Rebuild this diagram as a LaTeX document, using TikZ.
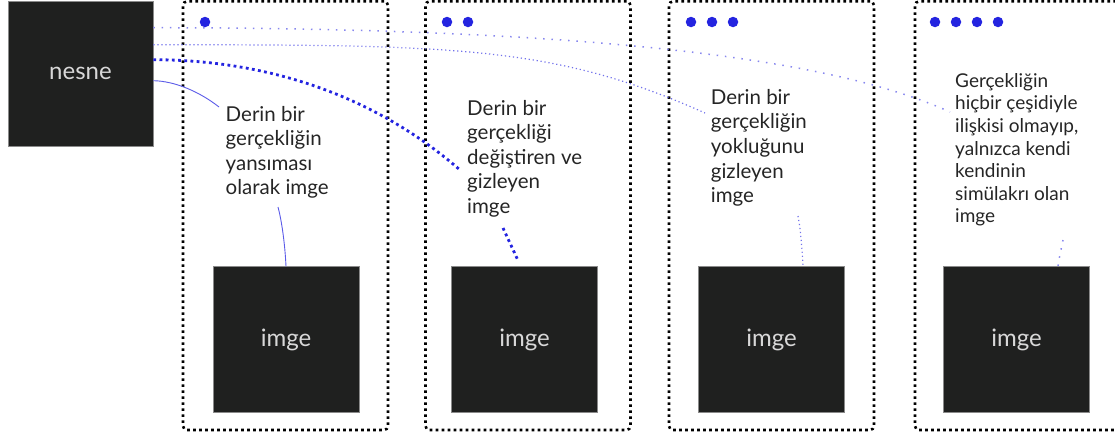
\documentclass[tikz,border=0pt]{standalone}
\usepackage{fontspec}
\setmainfont{Lato}
\usetikzlibrary{calc}

\definecolor{boxfill}{HTML}{1F201F}
\definecolor{boxline}{HTML}{8A8A8A}
\definecolor{bodytext}{HTML}{252525}
\definecolor{labeltext}{HTML}{D8D8D8}
\definecolor{accent}{RGB}{36,36,224}

\tikzset{
  darkbox/.style={draw=boxline, line width=0.6pt, fill=boxfill, minimum width=145pt,
    minimum height=145pt, inner sep=0pt, text=labeltext,
    font=\fontsize{24}{28}\selectfont},
  stagebox/.style={draw=black, line width=2.6pt, dash pattern=on 2.6pt off 3.4pt,
    rounded corners=4pt, minimum width=205pt, minimum height=428.6pt, inner sep=0pt},
  caption/.style={anchor=base west, inner sep=0pt, text=bodytext,
    font=\fontsize{20.5}{24.6}\selectfont},
  smallcaption/.style={caption, font=\fontsize{19}{22.6}\selectfont},
  marker/.style={circle, fill=accent, inner sep=0pt, minimum size=10.5pt},
  linkA/.style={draw=accent!75, line width=0.9pt},
  linkB/.style={draw=accent, line width=2.8pt, dash pattern=on 2.8pt off 3.4pt},
  linkC/.style={draw=accent!65, line width=1.2pt, dash pattern=on 1.2pt off 2.8pt},
  linkD/.style={draw=accent!55, line width=1.5pt, dash pattern=on 1.5pt off 6.8pt}
}

\begin{document}
\begin{tikzpicture}[x=1pt, y=-1pt]
\useasboundingbox (0,0) rectangle (1115,437);

% the object
\node[darkbox] (nesne) at (80.5,73.5) {nesne};

% four stages, each with a dotted frame, its marker dots, a caption and an image
\node[stagebox] (frame1) at (285.5,215.7) {};
\node[stagebox] (frame2) at (528,215.7) {};
\node[stagebox] (frame3) at (771.5,215.7) {};
\node[stagebox] (frame4) at (1017.5,215.7) {};

\node[marker] (m11) at (205,22) {};
\node[marker] (m21) at (447,22) {};
\node[marker] (m22) at (468,22) {};
\node[marker] (m31) at (691,22) {};
\node[marker] (m32) at (712,22) {};
\node[marker] (m33) at (733,22) {};
\node[marker] (m41) at (935,22) {};
\node[marker] (m42) at (956,22) {};
\node[marker] (m43) at (977,22) {};
\node[marker] (m44) at (998,22) {};

\node[caption] (t1) at (225.5,121) {\begin{tabular}[t]{@{}l@{}}Derin bir\\gerçekliğin\\yansıması\\olarak imge\end{tabular}};
\node[caption] (t2) at (467,115) {\begin{tabular}[t]{@{}l@{}}Derin bir\\gerçekliği\\değiştiren ve\\gizleyen\\imge\end{tabular}};
\node[caption] (t3) at (710.7,104.3) {\begin{tabular}[t]{@{}l@{}}Derin bir\\gerçekliğin\\yokluğunu\\gizleyen\\imge\end{tabular}};
\node[smallcaption] (t4) at (955,87.3) {\begin{tabular}[t]{@{}l@{}}Gerçekliğin\\hiçbir çeşidiyle\\ilişkisi olmayıp,\\yalnızca kendi\\kendinin\\simülakrı olan\\imge\end{tabular}};

\node[darkbox, minimum width=146pt, minimum height=145.5pt] (img1) at (286,339.5) {imge};
\node[darkbox, minimum width=146pt, minimum height=145.5pt] (img2) at (524.5,339.5) {imge};
\node[darkbox, minimum width=146pt, minimum height=145.5pt] (img3) at (771.5,339.5) {imge};
\node[darkbox, minimum width=146pt, minimum height=145.5pt] (img4) at (1016.5,339.5) {imge};

% where the links leave the object
\path (nesne.north east) ++(0,27) coordinate (s4);
\path (nesne.north east) ++(0,44) coordinate (s3);
\path (nesne.north east) ++(0,59) coordinate (s2);
\path (nesne.north east) ++(0,80) coordinate (s1);

% where the links reach and leave the captions
\coordinate (a1) at (219,107);
\coordinate (b1) at (278,207);
\coordinate (a2) at (460,170);
\coordinate (b2) at (503,228);
\coordinate (a3) at (705,113);
\coordinate (b3) at (798,216);
\coordinate (a4) at (950,112);
\coordinate (b4) at (1063,240);

% where the links meet the images
\coordinate (c1) at (img1.north);
\coordinate (c2) at ($(img2.north)+(-6.5,-6)$);
\coordinate (c3) at ($(img3.north)+(31.5,0)$);
\coordinate (c4) at ($(img4.north)+(41.5,0)$);

% object to caption
\draw[linkA] (s1) .. controls (175,81) and (200,92) .. (a1);
\draw[linkB] (s2) .. controls (303,60) and (403,120) .. (a2);
\draw[linkC] (s3) .. controls (453,45) and (553,45) .. (a3);
\draw[linkD] (s4) .. controls (653,28) and (853,68) .. (a4);

% caption to image
\draw[linkA] (b1) .. controls (282,222) and (285,245) .. (c1);
\draw[linkB] (b2) -- (c2);
\draw[linkC] (b3) .. controls (801,232) and (802,250) .. (c3);
\draw[linkD] (b4) .. controls (1061,250) and (1059,258) .. (c4);
\end{tikzpicture}
\end{document}
